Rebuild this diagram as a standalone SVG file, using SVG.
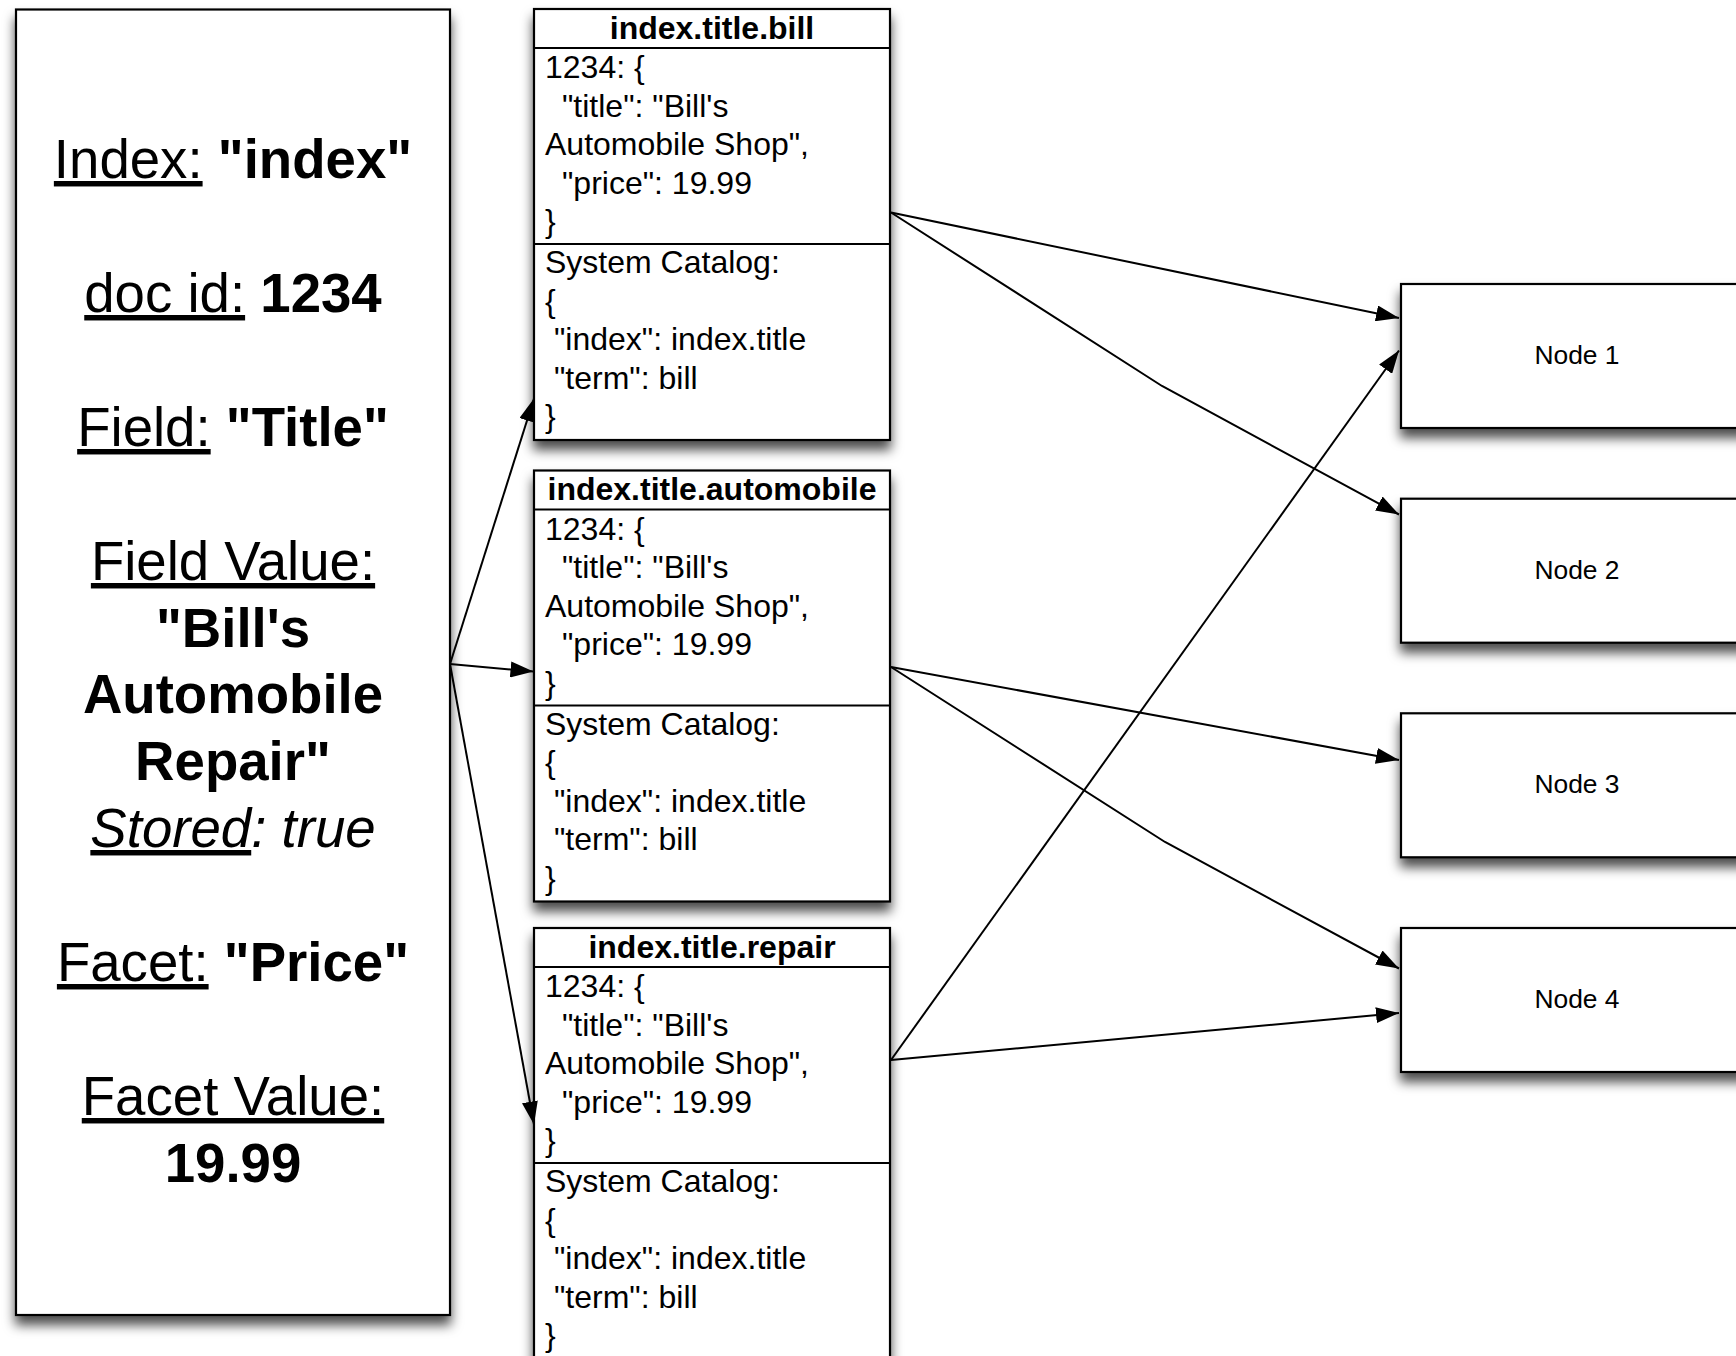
<svg xmlns="http://www.w3.org/2000/svg" width="1736" height="1356" viewBox="0 0 1736 1356">
  <defs>
    <filter id="shadow" x="-15%" y="-15%" width="130%" height="135%">
      <feDropShadow dx="0" dy="9" stdDeviation="6" flood-color="#000" flood-opacity="0.7"/>
    </filter>
    <marker id="arrow" markerUnits="userSpaceOnUse" markerWidth="24" markerHeight="16" refX="23" refY="8" orient="auto">
      <path d="M0,0 L23,8 L0,16 z" fill="#000"/>
    </marker>
  </defs>
  <style>
    text { font-family: "Liberation Sans", Arial, Helvetica, sans-serif; fill: #000; }
    .box { fill: #fff; stroke: #000; stroke-width: 2.2; }
    .sep { stroke: #000; stroke-width: 2; }
    .big { font-size: 54.6px; }
    .b { font-weight: bold; }
    .u { text-decoration: underline; }
    .i { font-style: italic; }
    .title { font-size: 32px; font-weight: bold; }
    .body { font-size: 32px; }
    .node { font-size: 26.4px; }
    .conn { fill: none; stroke: #000; stroke-width: 2; marker-end: url(#arrow); }
  </style>
  <rect width="1736" height="1356" fill="#fff"/>

  <!-- document / field description -->
  <g id="document">
    <rect class="box" x="16" y="9.5" width="434" height="1305.5" filter="url(#shadow)"/>
    <g class="big" text-anchor="middle">
      <text x="233" y="178"><tspan class="u">Index:</tspan> <tspan class="b">"index"</tspan></text>
      <text x="233" y="312"><tspan class="u">doc id:</tspan> <tspan class="b">1234</tspan></text>
      <text x="233" y="446"><tspan class="u">Field:</tspan> <tspan class="b">"Title"</tspan></text>
      <text x="233" y="580" class="u">Field Value:</text>
      <text x="233" y="647" class="b">"Bill's</text>
      <text x="233" y="713" class="b">Automobile</text>
      <text x="233" y="780" class="b">Repair"</text>
      <text x="233" y="847" class="i"><tspan class="u">Stored</tspan>: true</text>
      <text x="233" y="981"><tspan class="u">Facet:</tspan> <tspan class="b">"Price"</tspan></text>
      <text x="233" y="1115" class="u">Facet Value:</text>
      <text x="233" y="1182" class="b">19.99</text>
    </g>
  </g>

  <!-- term postings -->
  <g id="term-bill">
    <rect class="box" x="534" y="9" width="356" height="431" filter="url(#shadow)"/>
    <line class="sep" x1="534" y1="48" x2="890" y2="48"/>
    <line class="sep" x1="534" y1="244" x2="890" y2="244"/>
    <text class="title" x="712" y="38.5" text-anchor="middle">index.title.bill</text>
    <g class="body">
      <text x="545" y="78">1234: {</text>
      <text x="562" y="116.5">"title": "Bill's</text>
      <text x="545" y="155">Automobile Shop",</text>
      <text x="562" y="193.5">"price": 19.99</text>
      <text x="545" y="232">}</text>
      <text x="545" y="273">System Catalog:</text>
      <text x="545" y="311.5">{</text>
      <text x="554" y="350">"index": index.title</text>
      <text x="554" y="388.5">"term": bill</text>
      <text x="545" y="427">}</text>
    </g>
  </g>

  <g id="term-automobile">
    <rect class="box" x="534" y="470.5" width="356" height="431" filter="url(#shadow)"/>
    <line class="sep" x1="534" y1="509.5" x2="890" y2="509.5"/>
    <line class="sep" x1="534" y1="705.5" x2="890" y2="705.5"/>
    <text class="title" x="712" y="500" text-anchor="middle">index.title.automobile</text>
    <g class="body">
      <text x="545" y="539.5">1234: {</text>
      <text x="562" y="578">"title": "Bill's</text>
      <text x="545" y="616.5">Automobile Shop",</text>
      <text x="562" y="655">"price": 19.99</text>
      <text x="545" y="693.5">}</text>
      <text x="545" y="734.5">System Catalog:</text>
      <text x="545" y="773">{</text>
      <text x="554" y="811.5">"index": index.title</text>
      <text x="554" y="850">"term": bill</text>
      <text x="545" y="888.5">}</text>
    </g>
  </g>

  <g id="term-repair">
    <rect class="box" x="534" y="928" width="356" height="431" filter="url(#shadow)"/>
    <line class="sep" x1="534" y1="967" x2="890" y2="967"/>
    <line class="sep" x1="534" y1="1163" x2="890" y2="1163"/>
    <text class="title" x="712" y="957.5" text-anchor="middle">index.title.repair</text>
    <g class="body">
      <text x="545" y="997">1234: {</text>
      <text x="562" y="1035.5">"title": "Bill's</text>
      <text x="545" y="1074">Automobile Shop",</text>
      <text x="562" y="1112.5">"price": 19.99</text>
      <text x="545" y="1151">}</text>
      <text x="545" y="1192">System Catalog:</text>
      <text x="545" y="1230.5">{</text>
      <text x="554" y="1269">"index": index.title</text>
      <text x="554" y="1307.5">"term": bill</text>
      <text x="545" y="1346">}</text>
    </g>
  </g>

  <!-- storage nodes -->
  <g id="node-1">
    <rect class="box" x="1401" y="284" width="360" height="144" filter="url(#shadow)"/>
    <text class="node" x="1577" y="364" text-anchor="middle">Node 1</text>
  </g>
  <g id="node-2">
    <rect class="box" x="1401" y="498.7" width="360" height="144" filter="url(#shadow)"/>
    <text class="node" x="1577" y="578.7" text-anchor="middle">Node 2</text>
  </g>
  <g id="node-3">
    <rect class="box" x="1401" y="713.3" width="360" height="144" filter="url(#shadow)"/>
    <text class="node" x="1577" y="793.3" text-anchor="middle">Node 3</text>
  </g>
  <g id="node-4">
    <rect class="box" x="1401" y="928" width="360" height="144" filter="url(#shadow)"/>
    <text class="node" x="1577" y="1008" text-anchor="middle">Node 4</text>
  </g>

  <!-- connectors -->
  <g id="connectors">
    <path class="conn" d="M450,664 L534,398.5"/>
    <path class="conn" d="M450,664 L533.5,671.5"/>
    <path class="conn" d="M450,664 L534,1124.5"/>
    <path class="conn" d="M891,212.5 L1399,318"/>
    <path class="conn" d="M891,212.5 L1162,386 L1399,514.5"/>
    <path class="conn" d="M891,667 L1399,760"/>
    <path class="conn" d="M891,667 L1165,842 L1399,968.5"/>
    <path class="conn" d="M891,1060 L1399,350.5"/>
    <path class="conn" d="M891,1060 L1399,1013"/>
  </g>
</svg>
